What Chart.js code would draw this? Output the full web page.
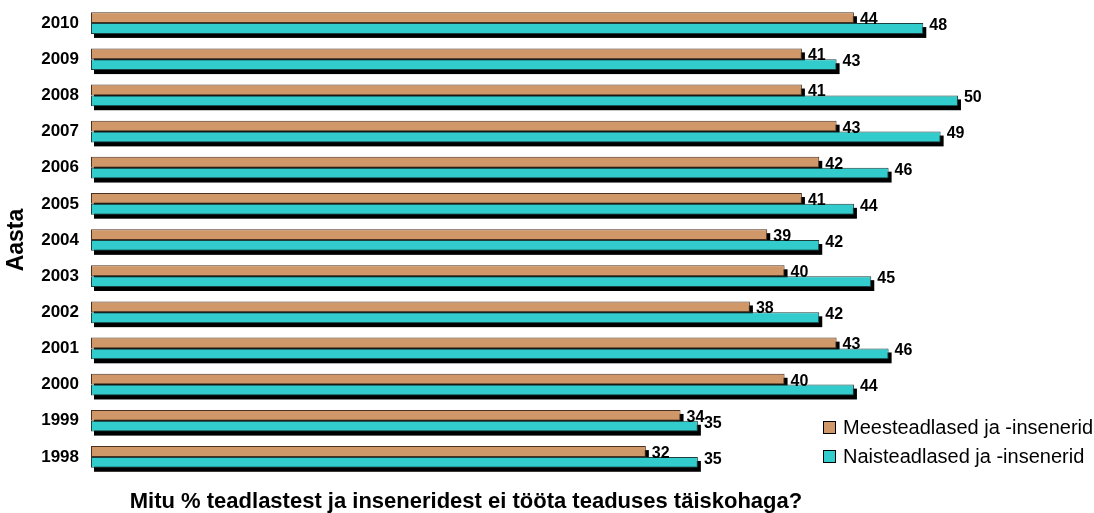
<!DOCTYPE html>
<html>
<head>
<meta charset="utf-8">
<script src="https://cdn.jsdelivr.net/npm/chart.js@4.4.1/dist/chart.umd.min.js"></script>
<style>
  html, body { margin: 0; padding: 0; background: #fff; }
  #wrap { width: 1094px; height: 513px; position: relative; }
</style>
</head>
<body>
<div id="wrap"><canvas id="chart"></canvas></div>
<script>
// data
const years = ["1998", "1999", "2000", "2001", "2002", "2003", "2004", "2005", "2006", "2007", "2008", "2009", "2010"];
const men = [32, 34, 40, 43, 38, 40, 39, 41, 42, 43, 41, 41, 44];
const women = [35, 35, 44, 46, 42, 45, 42, 44, 46, 49, 50, 43, 48];
const seriesNames = ["Meesteadlased ja -insenerid", "Naisteadlased ja -insenerid"];
const axisTitle = "Aasta";
const caption = "Mitu % teadlastest ja inseneridest ei tööta teaduses täiskohaga?";

const FONT = "Arial, 'Liberation Sans', sans-serif";

// black drop shadow under every bar, drawn before the bars themselves
const barShadows = {
    id: "barShadows",
    beforeDatasetsDraw(chart) {
        const ctx = chart.ctx;
        ctx.save();
        ctx.fillStyle = "#000";
        chart.data.datasets.forEach((ds, i) => {
            chart.getDatasetMeta(i).data.forEach(bar => {
                const left = Math.min(bar.base, bar.x);
                const w = Math.abs(bar.x - bar.base);
                ctx.fillRect(left + 3, bar.y - bar.height / 2 + 4, w, bar.height);
            });
        });
        ctx.restore();
    }
};

// value labels at the end of each bar
const valueLabels = {
    id: "valueLabels",
    afterDatasetsDraw(chart) {
        const ctx = chart.ctx;
        ctx.save();
        ctx.font = "bold 16px " + FONT;
        ctx.fillStyle = "#000";
        ctx.textAlign = "left";
        ctx.textBaseline = "middle";
        chart.data.datasets.forEach((ds, i) => {
            const dy = i === 0 ? 2 : -3;
            chart.getDatasetMeta(i).data.forEach((bar, j) => {
                ctx.fillText(ds.data[j], bar.x + 6, bar.y + dy);
            });
        });
        ctx.restore();
    }
};

// legend in the lower right corner + caption under the plot
const extras = {
    id: "extras",
    afterDraw(chart) {
        const ctx = chart.ctx;
        ctx.save();
        ctx.font = "20px " + FONT;
        ctx.textBaseline = "middle";
        ctx.textAlign = "left";
        chart.data.datasets.forEach((ds, i) => {
            const y = 427 + i * 29;
            ctx.fillStyle = ds.backgroundColor;
            ctx.fillRect(823, y - 6, 12, 12);
            ctx.strokeStyle = "#000";
            ctx.lineWidth = 1;
            ctx.strokeRect(823.5, y - 5.5, 12, 12);
            ctx.fillStyle = "#000";
            ctx.fillText(ds.label, 843, y + 1);
        });
        ctx.font = "bold 22px " + FONT;
        ctx.textAlign = "center";
        ctx.textBaseline = "alphabetic";
        ctx.fillText(caption, 466, 508);
        ctx.restore();
    }
};

new Chart(document.getElementById("chart"), {
    type: "bar",
    data: {
        labels: years,
        datasets: [
            {
                label: seriesNames[0],
                data: men,
                backgroundColor: "#D09868",
                borderColor: "#4a3020",
                borderWidth: 1,
                borderSkipped: false
            },
            {
                label: seriesNames[1],
                data: women,
                backgroundColor: "#33CCCC",
                borderColor: "#1c3f3f",
                borderWidth: 1,
                borderSkipped: false
            }
        ]
    },
    options: {
        indexAxis: "y",
        responsive: true,
        maintainAspectRatio: false,
        animation: false,
        layout: { autoPadding: false, padding: { top: 5, bottom: 38, right: 32, left: 0 } },
        datasets: {
            bar: { categoryPercentage: 0.6, barPercentage: 1 }
        },
        scales: {
            x: {
                display: false,
                min: 0,
                max: 56
            },
            y: {
                reverse: true,
                grid: { display: false, drawTicks: false },
                border: { display: false },
                ticks: {
                    color: "#000",
                    padding: 12,
                    font: { family: FONT, size: 17, weight: "bold" }
                },
                title: {
                    display: true,
                    text: axisTitle,
                    color: "#000",
                    padding: { top: 3, bottom: 0 },
                    font: { family: FONT, size: 23, weight: "bold" }
                },
                afterFit(scale) {
                    scale.width = 91;
                    scale.paddingTop = 0;
                    scale.paddingBottom = 0;
                }
            }
        },
        plugins: {
            legend: { display: false },
            tooltip: { enabled: false }
        }
    },
    plugins: [barShadows, valueLabels, extras]
});
</script>
</body>
</html>
